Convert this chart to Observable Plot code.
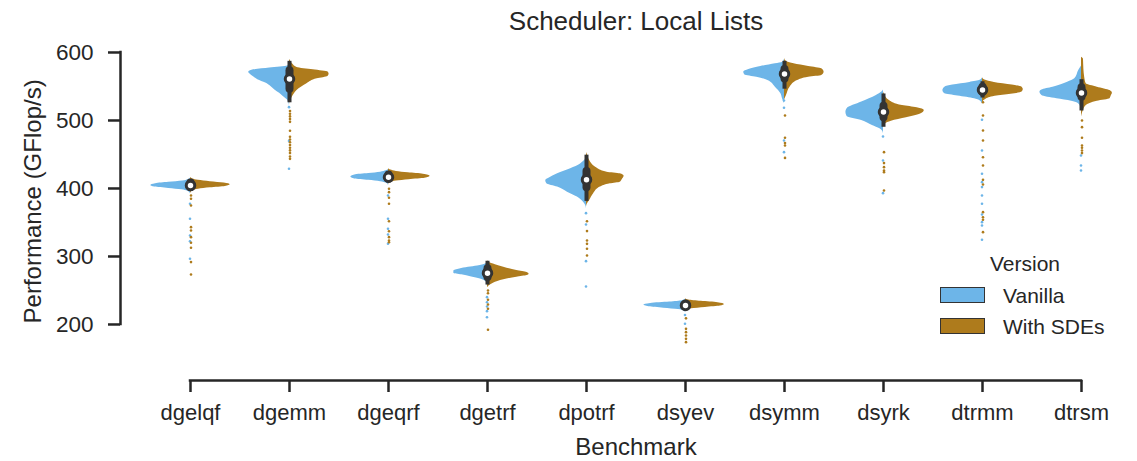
<!DOCTYPE html>
<html>
<head>
<meta charset="utf-8">
<script src="https://cdn.jsdelivr.net/npm/d3@7"></script>
<script src="https://cdn.jsdelivr.net/npm/@observablehq/plot@0.6"></script>
<style>
  body { margin: 0; background: #fff; font-family: "Liberation Sans", Arial, sans-serif; color: #262626; }
  #wrap { position: relative; width: 1137px; height: 461px; }
  #title { position: relative; height: 38px; }
  #title span { position: absolute; left: 636px; top: 8px; transform: translateX(-50%); font-size: 26px; line-height: 26px; white-space: nowrap; }
  #chart svg { display: block; }
  .lg { position: absolute; font-size: 21px; line-height: 21px; white-space: nowrap; }
  .sw { position: absolute; width: 45px; height: 16px; box-sizing: border-box; border: 1.5px solid #333; }
</style>
</head>
<body>
<div id="wrap">
  <div id="title"><span>Scheduler: Local Lists</span></div>
  <div id="chart"></div>
  <div id="legend"></div>
</div>
<script>
// ---------- data ----------
const benchmarks = ["dgelqf", "dgemm", "dgeqrf", "dgetrf", "dpotrf", "dsyev", "dsymm", "dsyrk", "dtrmm", "dtrsm"];
const versions = ["Vanilla", "With SDEs"];
const versionColors = ["#6db5e8", "#ae7b1c"];
const yTicks = [200, 300, 400, 500, 600];

// density profiles: [performance, relative density]
const dgelqfVanilla = [[415,0],[413,0.06],[411,0.2],[409,0.55],[407,0.88],[404.5,1],[402,0.9],[400,0.55],[398,0.22],[396,0.07],[394,0.02],[392,0]];
const dgelqfSDE     = [[416,0],[414,0.06],[412,0.2],[410,0.5],[408,0.85],[405.5,1],[403,0.88],[401,0.5],[399,0.2],[397,0.06],[395,0.02],[392,0]];
const dgemmVanilla  = [[583,0],[580,0.05],[577,0.5],[574,0.95],[571,1.03],[567,0.97],[564,0.9],[560,0.8],[555,0.6],[550,0.47],[545,0.37],[540,0.25],[535,0.15],[530,0.05],[525,0.01],[520,0]];
const dgemmSDE      = [[590,0],[588,0.02],[583,0.08],[578,0.19],[574.5,0.6],[571,0.98],[568,1.0],[564.7,0.97],[561.3,0.7],[554,0.44],[544,0.19],[534,0.07],[527,0.01],[522,0]];
const dgeqrfVanilla = [[428,0],[426,0.06],[424,0.2],[422,0.5],[420,0.85],[417,0.95],[414,0.85],[412,0.5],[410,0.2],[408,0.06],[406,0.01],[404,0]];
const dgeqrfSDE     = [[429,0],[427,0.06],[425,0.2],[423,0.5],[421,0.88],[418,1.05],[415,0.92],[413,0.52],[411,0.2],[409,0.06],[407,0.01],[404,0]];
const dgetrfVanilla = [[292,0],[289,0.05],[286,0.25],[284,0.48],[281.5,0.7],[278.5,0.85],[275.5,0.85],[273,0.65],[270,0.4],[267,0.18],[264,0.06],[260,0.01],[256,0]];
const dgetrfSDE     = [[294,0],[291.5,0.03],[288,0.2],[284.3,0.41],[279.4,0.74],[276.5,1.0],[274,1.05],[272,1.0],[269.6,0.74],[265.7,0.41],[260.8,0.15],[257.4,0.05],[254,0]];
const dpotrfVanilla = [[445,0],[440,0.07],[436,0.15],[429,0.4],[421.6,0.73],[415,0.95],[411.8,1.03],[407,1.0],[402,0.73],[394.6,0.48],[387.3,0.23],[380,0.08],[375,0.02],[370,0]];
const dpotrfSDE     = [[453,0],[450,0.02],[441,0.08],[431.3,0.23],[424,0.52],[421.6,0.85],[418,0.95],[413,0.9],[409.3,0.85],[406.9,0.6],[402,0.35],[392.2,0.18],[382.4,0.08],[377,0.02],[373,0]];
const dsyevVanilla  = [[237,0],[235,0.08],[233,0.4],[231,0.88],[228.5,1.05],[226,0.92],[224,0.55],[222,0.18],[220,0.04],[218,0]];
const dsyevSDE      = [[238,0],[236,0.08],[234,0.4],[232,0.82],[229.5,0.98],[227,0.88],[225,0.5],[223,0.15],[221,0.03],[219,0]];
const dsymmVanilla  = [[590,0],[585.8,0.05],[583.3,0.23],[579.4,0.6],[575,0.9],[571,1.03],[567,1.0],[563.7,0.7],[558.8,0.42],[549,0.23],[539.2,0.09],[532,0.05],[525,0]];
const dsymmSDE      = [[592,0],[588.2,0.02],[583.3,0.24],[579.4,0.61],[576,0.94],[571,1.0],[566.2,0.94],[563.7,0.61],[558.8,0.33],[549,0.14],[536.8,0.05],[530,0]];
const dsyrkVanilla  = [[545,0],[541.7,0.04],[536.8,0.18],[527,0.55],[517.2,0.92],[512,0.95],[505.9,0.92],[500,0.55],[492.6,0.28],[487.8,0.09],[484,0.02],[480,0]];
const dsyrkSDE      = [[542,0],[539,0.02],[529.4,0.15],[522,0.48],[518.7,0.85],[514.7,1.03],[509.8,0.95],[504,0.58],[499,0.2],[495,0.05],[490,0]];
const dtrmmVanilla  = [[563,0],[559,0.06],[556,0.32],[552,0.75],[549,0.95],[544,1.0],[539.2,0.95],[536,0.62],[532,0.2],[528,0.04],[524,0]];
const dtrmmSDE      = [[563,0],[559.5,0.06],[556,0.3],[552,0.75],[549,1.0],[545.6,1.03],[541.7,1.0],[538.5,0.72],[535.5,0.32],[531,0.08],[527,0.01],[523,0]];
const dtrsmVanilla  = [[580,0],[573.5,0.07],[561.3,0.17],[556.4,0.35],[549,0.72],[545,1.0],[541.7,1.05],[536.8,1.0],[532,0.62],[528.4,0.25],[525.5,0.09],[520,0.02],[515,0]];
const dtrsmSDE      = [[593,0],[590,0.05],[575,0.06],[563.7,0.08],[554,0.12],[549,0.4],[544,0.72],[540,0.78],[536,0.75],[532,0.72],[528.4,0.4],[522,0.12],[512,0.03],[505,0]];

// outlying observations (per benchmark)
const outliersVanilla = [
  [377.5, 355.4, 330.9, 322.5, 296.6],
  [519.6, 470, 429],
  [389.7, 355.4, 340.7, 332.4, 318.7],
  [240.2, 232.8, 226.5, 219.6, 210.7],
  [363.7, 347.1, 293.1, 255.9],
  [201, 214],
  [529.4, 518.7, 470.6, 453.4],
  [476.5, 441.2, 393.1],
  [501, 455.9, 421.6, 409.3, 402, 389.7, 377.5, 361.8, 350.5, 345.6, 324.5],
  [448.5, 433.8, 426.5]
];
const outliersSDE = [
  [389.7, 384.9, 375, 343.1, 338.2, 328.4, 320.1, 312.8, 291.7, 273.5],
  [514, 510, 506, 502, 498, 485, 476, 472, 468, 464, 460, 456, 452, 447, 443.6],
  [399.5, 394.6, 386.3, 377.5, 351.9, 337.2, 328.4, 323.5, 321],
  [250, 246, 236.3, 229.4, 223.1, 192.2],
  [351.9, 337.3, 323.5, 318.6, 311.3, 301.5],
  [209, 193.6, 188.7, 183.8, 178.9, 174],
  [507.4, 474.5, 466.7, 463.2, 445],
  [453.4, 437.3, 431.4, 426.5, 424, 397.1],
  [526.9, 507.4, 485.3, 470.6, 446, 433.8, 412.7, 405.9, 365.2, 357.8, 354, 335.8],
  [500, 490.2, 474.5, 463.2, 459.8, 455.9, 452]
];

// inner box statistics (both versions combined)
const medians     = [404.5, 561, 416.5, 275.5, 413, 228, 568.5, 512.5, 545, 540.5];
const q1s         = [401, 546, 413.5, 269, 401, 226, 561, 504, 541, 534];
const q3s         = [408, 573, 420, 282, 425, 230, 575, 521, 549, 548];
const whiskerLow  = [396, 526, 409, 258, 381, 224, 546, 490, 533, 514];
const whiskerHigh = [412, 587, 424, 293, 449, 232, 587, 539, 557, 560];

// ---------- build tables ----------
const densityVanilla = [dgelqfVanilla, dgemmVanilla, dgeqrfVanilla, dgetrfVanilla, dpotrfVanilla, dsyevVanilla, dsymmVanilla, dsyrkVanilla, dtrmmVanilla, dtrsmVanilla];
const densitySDE = [dgelqfSDE, dgemmSDE, dgeqrfSDE, dgetrfSDE, dpotrfSDE, dsyevSDE, dsymmSDE, dsyrkSDE, dtrmmSDE, dtrsmSDE];
const halfWidth = 0.4;
const toRows = (arr, sign) => arr.flatMap((prof, i) => prof.map(([v, d]) => ({i, v, x2: i + sign * d * halfWidth})));
const rowsV = toRows(densityVanilla, -1);
const rowsS = toRows(densitySDE, 1);
const outRows = (arr) => arr.flatMap((vals, i) => vals.map(v => ({i, v})));
const outV = outRows(outliersVanilla);
const outS = outRows(outliersSDE);
const stats = benchmarks.map((b, i) => ({i, med: medians[i], q1: q1s[i], q3: q3s[i], lo: whiskerLow[i], hi: whiskerHigh[i]}));
const idx = benchmarks.map((_, i) => i);

const yDomain = [151, 611];
const dark = "#333333";
const ink = "#262626";

const chart = Plot.plot({
  width: 1137,
  height: 423,
  marginLeft: 140.5,
  marginRight: 6.5,
  marginTop: 6.5,
  marginBottom: 103.7,
  x: {domain: [-0.5, 9.5]},
  y: {domain: yDomain},
  style: {fontFamily: "'Liberation Sans', Arial, sans-serif", color: ink, background: "white", overflow: "visible"},
  marks: [
    Plot.areaX(rowsV, {y: "v", x1: "i", x2: "x2", z: "i", fill: versionColors[0], curve: "monotone-y"}),
    Plot.areaX(rowsS, {y: "v", x1: "i", x2: "x2", z: "i", fill: versionColors[1], curve: "monotone-y"}),
    Plot.dot(outV, {x: "i", y: "v", r: 1.3, fill: versionColors[0], dx: -0.5}),
    Plot.dot(outS, {x: "i", y: "v", r: 1.3, fill: versionColors[1], dx: 0.5}),
    Plot.ruleX(stats, {x: "i", y1: "lo", y2: "hi", stroke: dark, strokeWidth: 4}),
    Plot.ruleX(stats, {x: "i", y1: "q1", y2: "q3", stroke: dark, strokeWidth: 8, strokeLinecap: "round"}),
    Plot.dot(stats, {x: "i", y: "med", r: 4.25, fill: "white", stroke: dark, strokeWidth: 3}),
    // y axis (offset spine)
    Plot.ruleX([-0.5], {y1: () => yTicks[0], y2: () => yTicks[yTicks.length - 1], dx: -20.5, stroke: ink, strokeWidth: 2.5, strokeLinecap: "square"}),
    Plot.axisY(yTicks, {anchor: "left", tickSize: 12, tickPadding: 15, dx: -20.5, fontSize: 22.5, label: null, stroke: ink, strokeWidth: 2.5}),
    // x axis (offset spine)
    Plot.ruleY([yDomain[0]], {x1: () => idx[0], x2: () => idx[idx.length - 1], dy: 22.7, stroke: ink, strokeWidth: 2.5, strokeLinecap: "square"}),
    Plot.axisX(idx, {anchor: "bottom", tickSize: 12, tickPadding: 12, dy: 22.7, fontSize: 22, label: null, tickFormat: i => benchmarks[i], stroke: ink, strokeWidth: 2.5}),
    // axis labels
    Plot.text(["Performance (GFlop/s)"], {frameAnchor: "left", textAnchor: "middle", rotate: -90, dx: -108, fontSize: 24, fill: ink}),
    Plot.text(["Benchmark"], {frameAnchor: "bottom", dy: 97, fontSize: 24, fill: ink})
  ]
});
document.getElementById("chart").appendChild(chart);

// legend
const legend = document.getElementById("legend");
const lt = document.createElement("div");
lt.className = "lg"; lt.textContent = "Version";
lt.style.left = "1025px"; lt.style.top = "253px"; lt.style.transform = "translateX(-50%)";
legend.appendChild(lt);
versions.forEach((v, k) => {
  const sw = document.createElement("div");
  sw.className = "sw"; sw.style.left = "940px"; sw.style.top = (287 + k * 31) + "px"; sw.style.background = versionColors[k];
  legend.appendChild(sw);
  const t = document.createElement("div");
  t.className = "lg"; t.textContent = v; t.style.left = "1003px"; t.style.top = (285 + k * 31) + "px";
  legend.appendChild(t);
});
</script>
</body>
</html>
